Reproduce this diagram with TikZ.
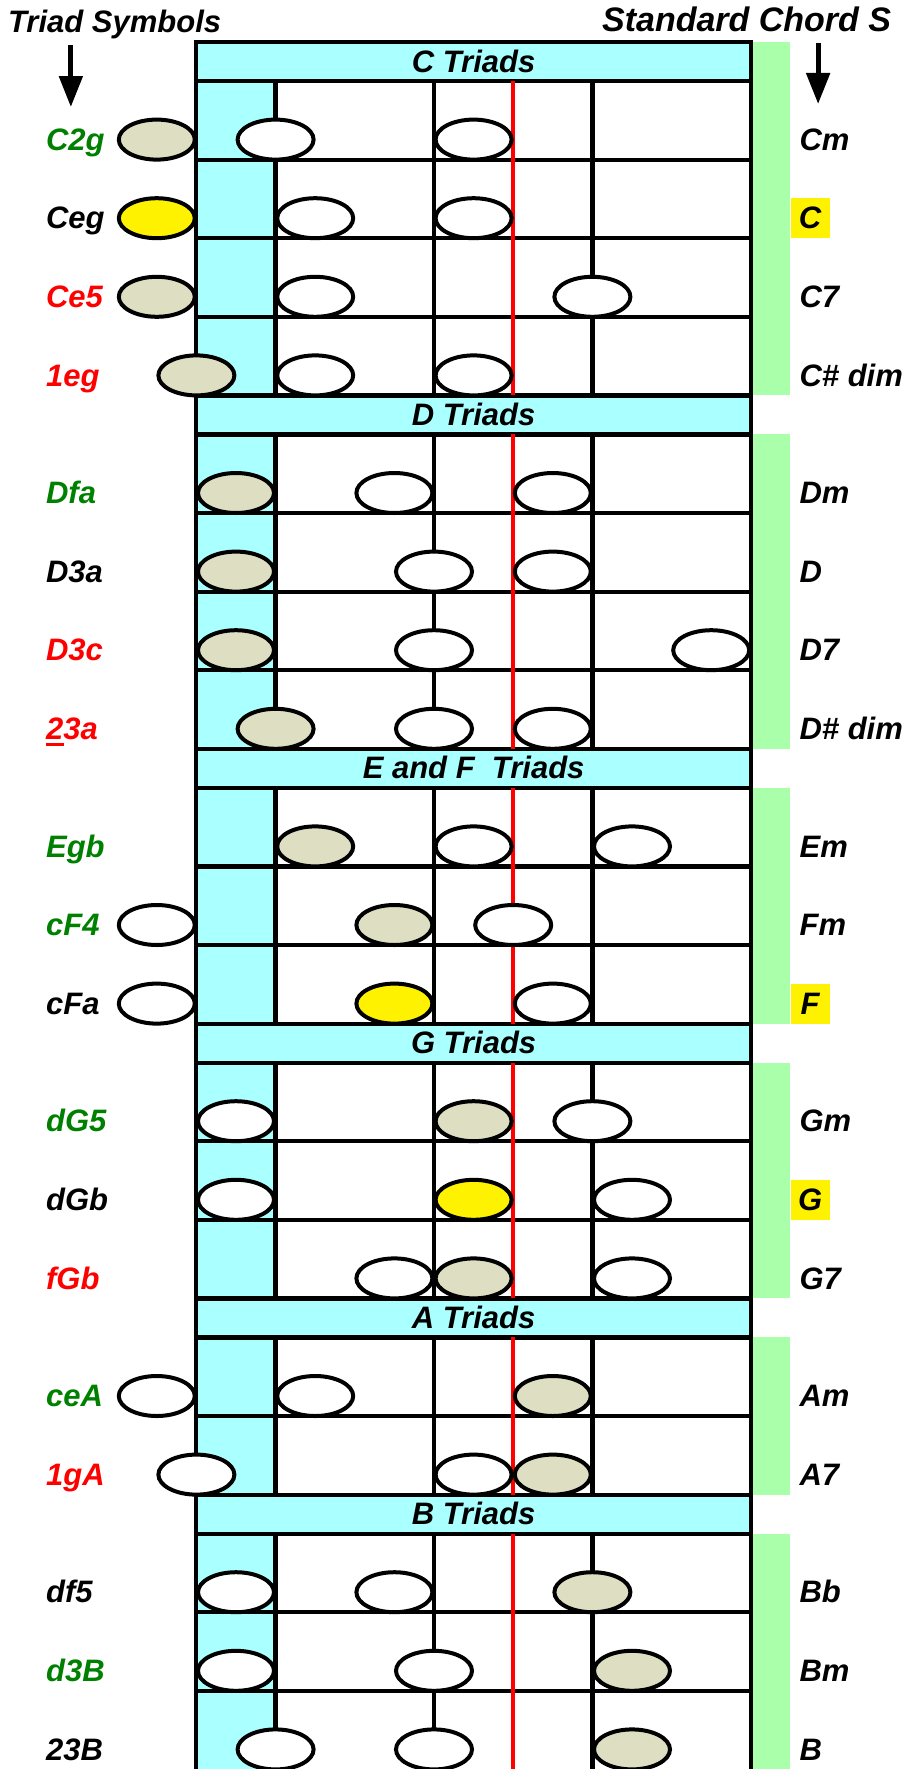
\documentclass[tikz,border=0pt]{standalone}
\usepackage{fontspec}
\setmainfont{Liberation Sans}
\usetikzlibrary{shapes.geometric,arrows.meta}
\pgfdeclarelayer{background}
\pgfdeclarelayer{foreground}
\pgfsetlayers{background,main,foreground}
\definecolor{triadcyan}{RGB}{170,255,255}
\definecolor{chordgreen}{RGB}{170,255,170}
\definecolor{roottan}{RGB}{222,222,194}
\definecolor{labgreen}{RGB}{0,128,0}
\tikzset{
  oval/.style={ellipse, draw, fill=white, line width=4pt, minimum width=76pt, minimum height=40pt, inner sep=0pt},
  rootoval/.style={oval, fill=roottan},
  keyoval/.style={oval, fill=yellow},
  lab/.style={font=\fontsize{31}{36}\selectfont\bfseries\itshape, inner sep=0pt, text height=21.3pt, text depth=0pt},
  leftlab/.style={lab, anchor=west},
  rightlab/.style={lab, anchor=west},
  keylab/.style={lab, anchor=west, fill=yellow, minimum width=39pt, minimum height=40pt},
  fretline/.style={line width=4.2pt},
  midline/.style={line width=4.5pt, red}
}

\begin{document}
\begin{tikzpicture}[x=39.6pt, y=-1pt]
\useasboundingbox (-10.9596,0) rectangle (11.9192,1769);
\clip (-10.9596,0) rectangle (11.9192,1769);

% titles and arrows
\node[anchor=base west, inner sep=0pt, font=\fontsize{31}{36}\selectfont\bfseries\itshape] (ttriad) at (-10.76,32.5) {Triad Symbols};
\node[anchor=base west, inner sep=0pt, font=\fontsize{34}{40}\selectfont\bfseries\itshape] (tchord) at (4.24,31.7) {Standard Chord S};
\coordinate (la1) at (-9.17,45);
\coordinate (la2) at (-9.17,107);
\coordinate (ra1) at (9.70,43);
\coordinate (ra2) at (9.70,104);
\draw[line width=5pt, -{Triangle[width=23pt,length=31pt]}] (la1) -- (la2);
\draw[line width=5pt, -{Triangle[width=23pt,length=31pt]}] (ra1) -- (ra2);

\begin{pgfonlayer}{background}
\fill[triadcyan] (-6,42) rectangle (-4,1769.4);
\fill[triadcyan] (-6,42) rectangle (8,81);
\fill[triadcyan] (-6,395.4) rectangle (8,434.4);
\fill[triadcyan] (-6,748.8) rectangle (8,787.8);
\fill[triadcyan] (-6,1023.6) rectangle (8,1062.6);
\fill[triadcyan] (-6,1298.4) rectangle (8,1337.4);
\fill[triadcyan] (-6,1494.6) rectangle (8,1533.6);
\fill[chordgreen] (8,42) rectangle (9,395.4);
\fill[chordgreen] (8,434.4) rectangle (9,748.8);
\fill[chordgreen] (8,787.8) rectangle (9,1023.6);
\fill[chordgreen] (8,1062.6) rectangle (9,1298.4);
\fill[chordgreen] (8,1337.4) rectangle (9,1494.6);
\fill[chordgreen] (8,1533.6) rectangle (9,1769.4);
\end{pgfonlayer}

% frets
\draw[fretline] (-6,1769.4) -- (-6,42) -- (8,42) -- (8,1769.4);
\draw[fretline] (-6,81) -- (8,81) (-6,159.6) -- (8,159.6) (-6,238.2) -- (8,238.2) (-6,316.8) -- (8,316.8)
  (-6,395.4) -- (8,395.4) (-6,434.4) -- (8,434.4) (-6,513) -- (8,513) (-6,591.6) -- (8,591.6)
  (-6,670.2) -- (8,670.2) (-6,748.8) -- (8,748.8) (-6,787.8) -- (8,787.8) (-6,866.4) -- (8,866.4)
  (-6,945) -- (8,945) (-6,1023.6) -- (8,1023.6) (-6,1062.6) -- (8,1062.6) (-6,1141.2) -- (8,1141.2)
  (-6,1219.8) -- (8,1219.8) (-6,1298.4) -- (8,1298.4) (-6,1337.4) -- (8,1337.4) (-6,1416) -- (8,1416)
  (-6,1494.6) -- (8,1494.6) (-6,1533.6) -- (8,1533.6) (-6,1612.2) -- (8,1612.2) (-6,1690.8) -- (8,1690.8);
\draw[fretline] (-4,81) -- (-4,395.4) (0,81) -- (0,395.4) (4,81) -- (4,395.4)
  (-4,434.4) -- (-4,748.8) (0,434.4) -- (0,748.8) (4,434.4) -- (4,748.8)
  (-4,787.8) -- (-4,1023.6) (0,787.8) -- (0,1023.6) (4,787.8) -- (4,1023.6)
  (-4,1062.6) -- (-4,1298.4) (0,1062.6) -- (0,1298.4) (4,1062.6) -- (4,1298.4)
  (-4,1337.4) -- (-4,1494.6) (0,1337.4) -- (0,1494.6) (4,1337.4) -- (4,1494.6)
  (-4,1533.6) -- (-4,1769.4) (0,1533.6) -- (0,1769.4) (4,1533.6) -- (4,1769.4);
\draw[midline] (2,81) -- (2,395.4) (2,434.4) -- (2,748.8) (2,787.8) -- (2,1023.6)
  (2,1062.6) -- (2,1298.4) (2,1337.4) -- (2,1494.6) (2,1533.6) -- (2,1769.4);

% section titles
\node[lab] (hC) at (1,61.5) {C Triads};
\node[lab] (hD) at (1,414.9) {D Triads};
\node[lab] (hEF) at (1,768.3) {E and F\ \ Triads};
\node[lab] (hG) at (1,1043.1) {G Triads};
\node[lab] (hA) at (1,1317.9) {A Triads};
\node[lab] (hB) at (1,1514.1) {B Triads};

% triad symbols
\node[leftlab, labgreen] (lC2g) at (-9.8,139.6) {C2g};
\node[leftlab] (lCeg) at (-9.8,218.2) {Ceg};
\node[leftlab, red] (lCe5) at (-9.8,296.8) {Ce5};
\node[leftlab, red] (l1eg) at (-9.8,375.4) {1eg};
\node[leftlab, labgreen] (lDfa) at (-9.8,493) {Dfa};
\node[leftlab] (lD3a) at (-9.8,571.6) {D3a};
\node[leftlab, red] (lD3c) at (-9.8,650.2) {D3c};
\node[leftlab, red] (l23a) at (-9.8,728.8) {\rlap{\rule[-7pt]{18pt}{3pt}}23a};
\node[leftlab, labgreen] (lEgb) at (-9.8,846.4) {Egb};
\node[leftlab, labgreen] (lcF4) at (-9.8,925) {cF4};
\node[leftlab] (lcFa) at (-9.8,1003.6) {cFa};
\node[leftlab, labgreen] (ldG5) at (-9.8,1121.2) {dG5};
\node[leftlab] (ldGb) at (-9.8,1199.8) {dGb};
\node[leftlab, red] (lfGb) at (-9.8,1278.4) {fGb};
\node[leftlab, labgreen] (lceA) at (-9.8,1396) {ceA};
\node[leftlab, red] (l1gA) at (-9.8,1474.6) {1gA};
\node[leftlab] (ldf5) at (-9.8,1592.2) {df5};
\node[leftlab, labgreen] (ld3B) at (-9.8,1670.8) {d3B};
\node[leftlab] (l23B) at (-9.8,1749.4) {23B};

% chord symbols
\node[rightlab] (rCm) at (9.227,139.6) {Cm};
\node[keylab] (rC) at (9,218.2) {C};
\node[rightlab] (rC7) at (9.227,296.8) {C7};
\node[rightlab] (rCsdim) at (9.227,375.4) {C\# dim};
\node[rightlab] (rDm) at (9.227,493) {Dm};
\node[rightlab] (rD) at (9.227,571.6) {D};
\node[rightlab] (rD7) at (9.227,650.2) {D7};
\node[rightlab] (rDsdim) at (9.227,728.8) {D\# dim};
\node[rightlab] (rEm) at (9.227,846.4) {Em};
\node[rightlab] (rFm) at (9.227,925) {Fm};
\node[keylab] (rF) at (9,1003.6) {F};
\node[rightlab] (rGm) at (9.227,1121.2) {Gm};
\node[keylab] (rG) at (9,1199.8) {G};
\node[rightlab] (rG7) at (9.227,1278.4) {G7};
\node[rightlab] (rAm) at (9.227,1396) {Am};
\node[rightlab] (rA7) at (9.227,1474.6) {A7};
\node[rightlab] (rBb) at (9.227,1592.2) {Bb};
\node[rightlab] (rBm) at (9.227,1670.8) {Bm};
\node[rightlab] (rB) at (9.227,1749.4) {B};

\begin{pgfonlayer}{foreground}
% C triads
\node[rootoval] (C2g1) at (-7,139.6) {};
\node[oval] (C2g2) at (-4,139.6) {};
\node[oval] (C2g3) at (1,139.6) {};
\node[keyoval] (Ceg1) at (-7,218.2) {};
\node[oval] (Ceg2) at (-3,218.2) {};
\node[oval] (Ceg3) at (1,218.2) {};
\node[rootoval] (Ce51) at (-7,296.8) {};
\node[oval] (Ce52) at (-3,296.8) {};
\node[oval] (Ce53) at (4,296.8) {};
\node[rootoval] (1eg1) at (-6,375.4) {};
\node[oval] (1eg2) at (-3,375.4) {};
\node[oval] (1eg3) at (1,375.4) {};
% D triads
\node[rootoval] (Dfa1) at (-5,493) {};
\node[oval] (Dfa2) at (-1,493) {};
\node[oval] (Dfa3) at (3,493) {};
\node[rootoval] (D3a1) at (-5,571.6) {};
\node[oval] (D3a2) at (0,571.6) {};
\node[oval] (D3a3) at (3,571.6) {};
\node[rootoval] (D3c1) at (-5,650.2) {};
\node[oval] (D3c2) at (0,650.2) {};
\node[oval] (D3c3) at (7,650.2) {};
\node[rootoval] (23a1) at (-4,728.8) {};
\node[oval] (23a2) at (0,728.8) {};
\node[oval] (23a3) at (3,728.8) {};
% E and F triads
\node[rootoval] (Egb1) at (-3,846.4) {};
\node[oval] (Egb2) at (1,846.4) {};
\node[oval] (Egb3) at (5,846.4) {};
\node[oval] (cF41) at (-7,925) {};
\node[rootoval] (cF42) at (-1,925) {};
\node[oval] (cF43) at (2,925) {};
\node[oval] (cFa1) at (-7,1003.6) {};
\node[keyoval] (cFa2) at (-1,1003.6) {};
\node[oval] (cFa3) at (3,1003.6) {};
% G triads
\node[oval] (dG51) at (-5,1121.2) {};
\node[rootoval] (dG52) at (1,1121.2) {};
\node[oval] (dG53) at (4,1121.2) {};
\node[oval] (dGb1) at (-5,1199.8) {};
\node[keyoval] (dGb2) at (1,1199.8) {};
\node[oval] (dGb3) at (5,1199.8) {};
\node[oval] (fGb1) at (-1,1278.4) {};
\node[rootoval] (fGb2) at (1,1278.4) {};
\node[oval] (fGb3) at (5,1278.4) {};
% A triads
\node[oval] (ceA1) at (-7,1396) {};
\node[oval] (ceA2) at (-3,1396) {};
\node[rootoval] (ceA3) at (3,1396) {};
\node[oval] (1gA1) at (-6,1474.6) {};
\node[oval] (1gA2) at (1,1474.6) {};
\node[rootoval] (1gA3) at (3,1474.6) {};
% B triads
\node[oval] (df51) at (-5,1592.2) {};
\node[oval] (df52) at (-1,1592.2) {};
\node[rootoval] (df53) at (4,1592.2) {};
\node[oval] (d3B1) at (-5,1670.8) {};
\node[oval] (d3B2) at (0,1670.8) {};
\node[rootoval] (d3B3) at (5,1670.8) {};
\node[oval] (23B1) at (-4,1749.4) {};
\node[oval] (23B2) at (0,1749.4) {};
\node[rootoval] (23B3) at (5,1749.4) {};
\end{pgfonlayer}
\end{tikzpicture}
\end{document}
